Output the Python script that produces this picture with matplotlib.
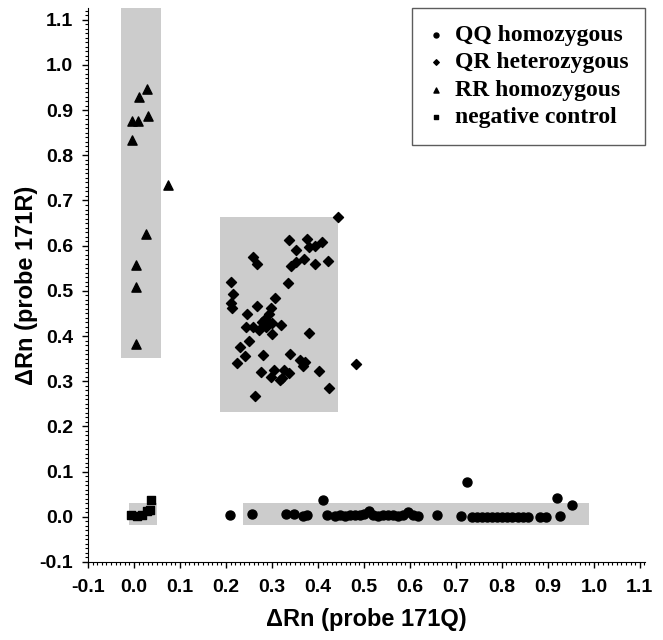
import numpy as np
import matplotlib.pyplot as plt
from matplotlib.patches import Rectangle
from matplotlib.ticker import MultipleLocator, FormatStrFormatter

plt.rcParams['axes.unicode_minus'] = False

# QQ homozygous (circles)
qq_x = [0.209, 0.257, 0.330, 0.347, 0.368, 0.377, 0.412, 0.420, 0.437, 0.448,
        0.459, 0.470, 0.480, 0.491, 0.500, 0.512, 0.520, 0.531, 0.542, 0.553,
        0.564, 0.575, 0.585, 0.596, 0.607, 0.618, 0.658, 0.712, 0.724, 0.735,
        0.746, 0.757, 0.768, 0.779, 0.790, 0.801, 0.812, 0.823, 0.834, 0.845,
        0.856, 0.883, 0.897, 0.926, 0.919, 0.953]
qq_y = [0.004, 0.006, 0.006, 0.006, 0.001, 0.003, 0.038, 0.003, 0.002, 0.003,
        0.002, 0.003, 0.004, 0.003, 0.006, 0.012, 0.004, 0.002, 0.003, 0.005,
        0.003, 0.002, 0.004, 0.010, 0.003, 0.002, 0.005, 0.001, 0.077, -0.001,
        -0.001, 0.000, -0.001, -0.001, 0.000, -0.001, -0.001, 0.000, -0.001, -0.001,
        0.000, -0.001, -0.001, 0.001, 0.042, 0.027]

# QR heterozygous (diamonds)
qr_x = [0.443, 0.337, 0.377, 0.409, 0.394, 0.380, 0.353, 0.258, 0.370, 0.423,
        0.352, 0.341, 0.394, 0.267, 0.212, 0.335, 0.215, 0.306, 0.210, 0.214,
        0.267, 0.297, 0.246, 0.294, 0.285, 0.278, 0.301, 0.243, 0.259, 0.272,
        0.288, 0.319, 0.301, 0.380, 0.251, 0.230, 0.241, 0.281, 0.339, 0.225,
        0.361, 0.372, 0.367, 0.483, 0.276, 0.305, 0.327, 0.337, 0.402, 0.298,
        0.322, 0.317, 0.424, 0.263]
qr_y = [0.663, 0.612, 0.615, 0.608, 0.600, 0.598, 0.591, 0.576, 0.571, 0.566,
        0.564, 0.556, 0.559, 0.559, 0.520, 0.518, 0.494, 0.485, 0.473, 0.463,
        0.467, 0.463, 0.448, 0.448, 0.437, 0.431, 0.429, 0.421, 0.420, 0.414,
        0.419, 0.424, 0.404, 0.406, 0.389, 0.376, 0.356, 0.358, 0.361, 0.341,
        0.347, 0.342, 0.333, 0.338, 0.320, 0.324, 0.324, 0.318, 0.323, 0.310,
        0.307, 0.302, 0.284, 0.267]

# RR homozygous (triangles)
rr_x = [0.028, 0.012, -0.004, 0.008, 0.030, -0.004, 0.074, 0.027, 0.004, 0.005, 0.005]
rr_y = [0.947, 0.930, 0.877, 0.876, 0.886, 0.833, 0.734, 0.626, 0.558, 0.508, 0.383]

# negative control (squares)
neg_x = [-0.006, 0.006, 0.017, 0.028, 0.035, 0.037]
neg_y = [0.004, 0.002, 0.004, 0.012, 0.014, 0.038]

# shaded cluster regions: (x0, x1, y0, y1)
cluster_boxes = [(-0.028, 0.059, 0.352, 1.126),
                 (0.187, 0.444, 0.232, 0.664),
                 (-0.011, 0.050, -0.018, 0.031),
                 (0.237, 0.989, -0.018, 0.031)]

fig = plt.figure(figsize=(6.63, 6.40), dpi=100)
ax = fig.add_axes([0.1327, 0.1219, 0.840, 0.8656])

for x0, x1, y0, y1 in cluster_boxes:
    ax.add_patch(Rectangle((x0, y0), x1 - x0, y1 - y0, facecolor='#cccccc',
                           edgecolor='none', zorder=1))

ax.scatter(qq_x, qq_y, marker='o', s=42, color='black', zorder=3, label='QQ homozygous')
ax.scatter(qr_x, qr_y, marker='D', s=26, color='black', zorder=3, label='QR heterozygous')
ax.scatter(rr_x, rr_y, marker='^', s=44, color='black', zorder=3, label='RR homozygous')
ax.scatter(neg_x, neg_y, marker='s', s=36, color='black', zorder=3, label='negative control')

ax.set_xlim(-0.1, 1.111)
ax.set_ylim(-0.1, 1.126)
ax.spines['top'].set_visible(False)
ax.spines['right'].set_visible(False)

ax.xaxis.set_major_locator(MultipleLocator(0.1))
ax.xaxis.set_minor_locator(MultipleLocator(0.01))
ax.yaxis.set_major_locator(MultipleLocator(0.1))
ax.yaxis.set_minor_locator(MultipleLocator(0.01))
ax.xaxis.set_major_formatter(FormatStrFormatter('%.1f'))
ax.yaxis.set_major_formatter(FormatStrFormatter('%.1f'))
ax.tick_params(which='major', length=4.5, width=1, labelsize=14)
ax.tick_params(axis='y', which='major', pad=6.3)
ax.tick_params(axis='x', which='major', pad=8)
ax.tick_params(which='minor', length=2.5, width=0.8)
for lbl in ax.get_xticklabels() + ax.get_yticklabels():
    lbl.set_fontfamily('Liberation Sans')
    lbl.set_fontweight('bold')

ax.set_xlabel('\u0394Rn (probe 171Q)', fontsize=17, fontfamily='Liberation Sans',
              fontweight='bold')
ax.set_ylabel('\u0394Rn (probe 171R)', fontsize=17, fontfamily='Liberation Sans',
              fontweight='bold')
ax.xaxis.set_label_coords(0.5, -0.083)
ax.yaxis.set_label_coords(-0.09, 0.5)

leg = ax.legend(loc='upper right', bbox_to_anchor=(1.0, 1.0), borderaxespad=0,
                frameon=True, fancybox=False, markerscale=0.55, handletextpad=0.5,
                handlelength=0.6, labelspacing=0.25, borderpad=0.7,
                prop={'family': 'Liberation Serif', 'weight': 'bold', 'size': 17})
leg.get_frame().set_edgecolor('#333333')
leg.get_frame().set_linewidth(1.0)

fig.savefig('out.png', dpi=100)
